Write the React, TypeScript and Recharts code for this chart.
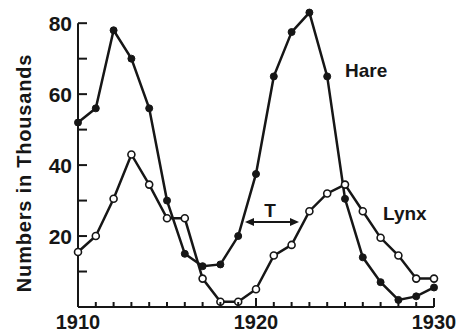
import {
  Customized,
  Line,
  LineChart,
  ReferenceLine,
  XAxis,
  YAxis,
} from 'recharts'

const years = [
  1910, 1911, 1912, 1913, 1914, 1915, 1916, 1917, 1918, 1919, 1920,
  1921, 1922, 1923, 1924, 1925, 1926, 1927, 1928, 1929, 1930,
]
const hare = [52, 56, 78, 70, 56, 30, 15, 11.5, 12, 20, 37.5, 65, 77.5, 83, 65, 30.5, 14, 7, 2, 3, 5.5]
const lynx = [15.5, 20, 30.5, 43, 34.5, 25, 25, 8, 1.5, 1.5, 5, 14.5, 17.5, 27, 32, 34.5, 27, 19.5, 14.5, 8, 8]
const yTicks = [10, 20, 30, 40, 50, 60, 70, 80]

const data = years.map((year, i) => ({ year, hare: hare[i], lynx: lynx[i] }))

const ink = '#161616'
const font = '"Liberation Sans", Arial, sans-serif'

function YTick({ x, y, payload }: any) {
  const v = payload.value
  const major = v % 20 === 0
  return (
    <g>
      <line x1={x} x2={x + 9} y1={y} y2={y} stroke={ink} strokeWidth={2} />
      {major && (
        <text x={x - 6} y={y} dy={8} textAnchor="end" fill={ink}
          style={{ fontFamily: font, fontWeight: 700, fontSize: 21 }}>
          {v}
        </text>
      )}
    </g>
  )
}

function XTick({ x, y, payload }: any) {
  const v = payload.value
  const major = v % 10 === 0
  return (
    <g>
      <line x1={x} x2={x} y1={y} y2={y - (major ? 9 : 5)} stroke={ink} strokeWidth={2} />
      {major && (
        <text x={x} y={y} dy={22} textAnchor="middle" fill={ink}
          style={{ fontFamily: font, fontWeight: 700, fontSize: 20 }}>
          {v}
        </text>
      )}
    </g>
  )
}

function Notes() {
  const t = { fontFamily: font, fontWeight: 700, fill: ink }
  return (
    <g>
      <text x={24} y={173} transform="rotate(-90 24 173)" textAnchor="middle" dy={7}
        style={{ ...t, fontSize: 20, letterSpacing: 0.8 }}>
        Numbers in Thousands
      </text>
      <text x={345} y={77} style={{ ...t, fontSize: 19 }}>Hare</text>
      <text x={383} y={220} style={{ ...t, fontSize: 19 }}>Lynx</text>
      <text x={270} y={217} textAnchor="middle" style={{ ...t, fontSize: 19 }}>T</text>
      <line x1={247} x2={297} y1={222} y2={222} stroke={ink} strokeWidth={2} />
      <path d="M245 222 L254 218 L254 226 Z" fill={ink} />
      <path d="M299 222 L290 218 L290 226 Z" fill={ink} />
    </g>
  )
}

export default function App() {
  return (
    <div style={{ width: 464, height: 333 }}>
      <style>{'body{margin:0}'}</style>
      <LineChart width={464} height={333} data={data}
        margin={{ top: 9, right: 30, left: 0, bottom: 0 }}>
        <XAxis dataKey="year" type="number" domain={[1910, 1930]} ticks={years}
          height={26} tickSize={0} tickMargin={0} tickLine={false}
          axisLine={{ stroke: ink, strokeWidth: 2 }} tick={<XTick />} interval={0} />
        <YAxis type="number" domain={[0, 84]} ticks={yTicks} width={78}
          tickSize={0} tickMargin={0} tickLine={false} axisLine={false}
          tick={<YTick />} interval={0} />
        <ReferenceLine segment={[{ x: 1910, y: 0 }, { x: 1910, y: 80 }]}
          stroke={ink} strokeWidth={2} />
        <Line dataKey="lynx" stroke={ink} strokeWidth={2.5} isAnimationActive={false}
          dot={{ r: 3.5, fill: '#fff', stroke: ink, strokeWidth: 1.6 }} />
        <Line dataKey="hare" stroke={ink} strokeWidth={2.5} isAnimationActive={false}
          dot={{ r: 3.5, fill: ink, stroke: ink, strokeWidth: 1 }} />
        <Customized component={Notes} />
      </LineChart>
    </div>
  )
}
